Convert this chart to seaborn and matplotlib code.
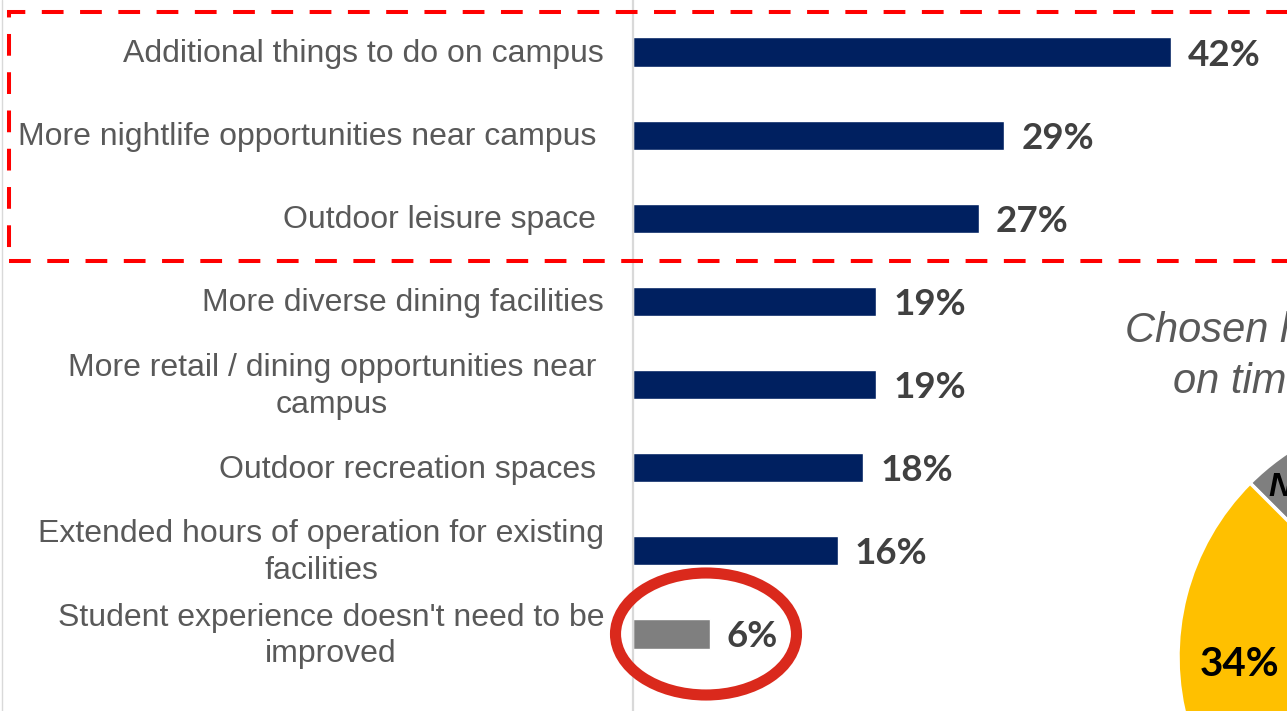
import matplotlib
matplotlib.use("Agg")
import matplotlib.pyplot as plt
from matplotlib.patches import Rectangle, Ellipse
from matplotlib.lines import Line2D
import seaborn as sns
import pandas as pd

# Survey results: what would improve the student experience
categories = [
    "Additional things to do on campus",
    "More nightlife opportunities near campus ",
    "Outdoor leisure space ",
    "More diverse dining facilities",
    "More retail / dining opportunities near\ncampus ",
    "Outdoor recreation spaces ",
    "Extended hours of operation for existing\nfacilities",
    "Student experience doesn't need to be\nimproved",
]
values = [42, 29, 27, 19, 19, 18, 16, 6]
bar_colors = ["#002060"] * 7 + ["#7F7F7F"]

# Side pie: chosen location based on time to campus
pie_labels = ["Other", "No", "Yes"]
pie_values = [56, 10, 34]
pie_colors = ["#1F3864", "#7F7F7F", "#FFC000"]

W, H = 1287, 711
sns.set_theme(style="white")
plt.rcParams["font.family"] = ["Liberation Sans", "DejaVu Sans"]

fig = plt.figure(figsize=(W / 100, H / 100), dpi=100)
fig.patch.set_facecolor("white")

# ---- bar chart ----
px_per_unit = 12.8
ax = fig.add_axes([633 / W, 0, 1 - 633 / W, 1])
df = pd.DataFrame({"category": categories, "value": values})
sns.barplot(data=df, x="value", y="category", hue="category",
            palette=bar_colors, legend=False, width=0.35, orient="h",
            saturation=1, ax=ax)
spacing = 83.14
ax.set_ylim((H - 52) / spacing, -52 / spacing)
ax.set_xlim(0, (W - 633) / px_per_unit)
ax.set_xlabel("")
ax.set_ylabel("")
ax.set_xticks([])
ax.set_yticks([])
for s in ["top", "right", "bottom"]:
    ax.spines[s].set_visible(False)
ax.spines["left"].set_color("#D9D9D9")
ax.spines["left"].set_linewidth(1.6)

label_off = matplotlib.transforms.offset_copy
for i, (cat, v) in enumerate(zip(categories, values)):
    shift = -37 if cat.endswith(" ") else -29
    tr = label_off(ax.transData, fig=fig, x=shift, y=-2, units="dots")
    ax.text(0, i, cat.rstrip(), transform=tr, ha="right", va="center",
            multialignment="center", fontsize=23.0, color="#595959",
            linespacing=1.3, clip_on=False)
    tr2 = label_off(ax.transData, fig=fig, x=17, y=-3, units="dots")
    ax.text(v, i, f"{v}%", transform=tr2, ha="left", va="center",
            fontsize=26.5, fontweight="bold", color="#404040",
            family=["Lato", "DejaVu Sans"])

# ---- partial pie on the right ----
cx, cy, r = 1424, 657, 246
pax = fig.add_axes([(cx - r) / W, (H - cy - r) / H, 2 * r / W, 2 * r / H])
start = 135 - 3.6 * (pie_values[0] + pie_values[1])
pax.pie(pie_values, colors=pie_colors, startangle=start, radius=1,
        wedgeprops=dict(edgecolor="white", linewidth=2.5))
pax.set_xlim(-1, 1)
pax.set_ylim(-1, 1)
pax.set_aspect("equal")
pax.axis("off")

fig.text(1240 / W, 1 - 664 / H, f"{pie_values[2]}%", ha="center", va="center",
         fontsize=29, fontweight="bold", color="black",
         family=["Lato", "DejaVu Sans"])
fig.text(1268 / W, 1 - 487 / H, pie_labels[1], ha="left", va="center",
         fontsize=24, fontweight="bold", style="italic", color="black")
fig.text(1125 / W, 1 - 331 / H, "Chosen location based", ha="left", va="center",
         fontsize=30, style="italic", color="#595959")
fig.text(1173 / W, 1 - 382 / H, "on time to campus", ha="left", va="center",
         fontsize=30, style="italic", color="#595959")

# ---- highlight annotations ----
box = Rectangle((9 / W, 1 - 261 / H), 1.2, (261 - 12) / H,
                transform=fig.transFigure, fill=False, edgecolor="#FF0000",
                linewidth=2.9, linestyle=(0, (5.4, 4.1)))
fig.add_artist(box)

ring = Ellipse((706 / W, 1 - 634 / H), 181 / W, 122 / H,
               transform=fig.transFigure, fill=False, edgecolor="#DA291C",
               linewidth=8)
fig.add_artist(ring)

# slide edge
fig.add_artist(Line2D([1.5 / W, 1.5 / W], [0, 1], transform=fig.transFigure,
                      color="#D9D9D9", linewidth=1))

fig.savefig("out.png", dpi=100, facecolor="white")
